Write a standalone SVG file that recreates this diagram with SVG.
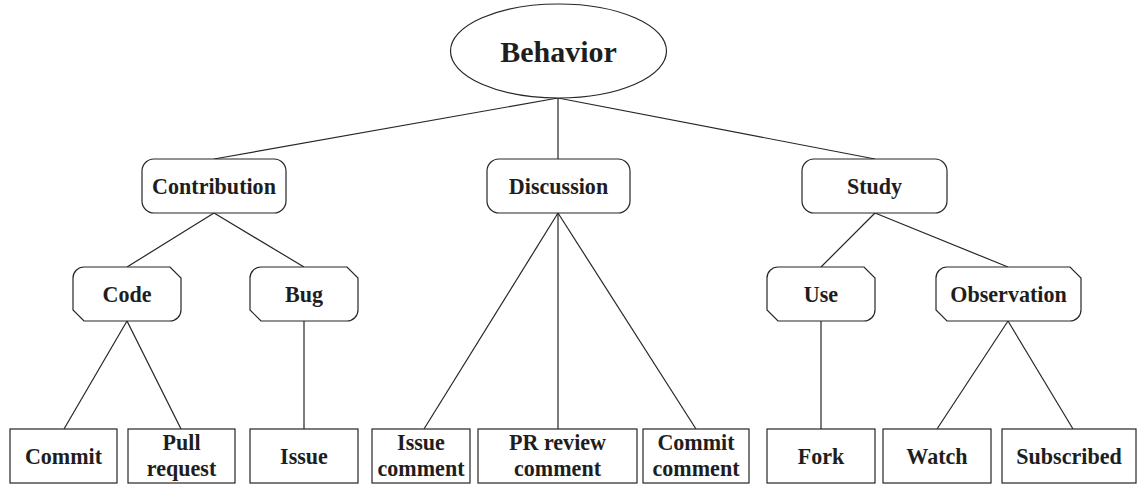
<svg xmlns="http://www.w3.org/2000/svg" width="1138" height="487" viewBox="0 0 1138 487">
<style>
  .shape { fill: #ffffff; stroke: #262626; stroke-width: 1.2; }
  .edge { stroke: #262626; stroke-width: 1.2; fill: none; }
  text { font-family: "Liberation Serif", "Times New Roman", serif; font-weight: bold; fill: #1e1e1e; text-anchor: middle; }
  .t { font-size: 24px; }
  .root { font-size: 30px; }
</style>
<rect width="1138" height="487" fill="#ffffff"/>
<g id="connectors">
  <line class="edge" x1="558" y1="98" x2="214" y2="159"/>
  <line class="edge" x1="558" y1="98" x2="558" y2="159"/>
  <line class="edge" x1="558" y1="98" x2="875" y2="159"/>
  <line class="edge" x1="214" y1="213" x2="127" y2="267"/>
  <line class="edge" x1="214" y1="213" x2="304" y2="267"/>
  <line class="edge" x1="127" y1="321" x2="64" y2="429"/>
  <line class="edge" x1="127" y1="321" x2="181" y2="429"/>
  <line class="edge" x1="304" y1="321" x2="304" y2="429"/>
  <line class="edge" x1="558" y1="213" x2="424" y2="429"/>
  <line class="edge" x1="558" y1="213" x2="558" y2="429"/>
  <line class="edge" x1="558" y1="213" x2="696" y2="429"/>
  <line class="edge" x1="875" y1="213" x2="821" y2="267"/>
  <line class="edge" x1="875" y1="213" x2="1008" y2="267"/>
  <line class="edge" x1="821" y1="321" x2="821" y2="429"/>
  <line class="edge" x1="1008" y1="321" x2="937" y2="429"/>
  <line class="edge" x1="1008" y1="321" x2="1073" y2="429"/>
</g>
<g id="behavior">
  <ellipse class="shape" cx="558.5" cy="51" rx="108" ry="47"/>
  <text class="root" x="558.5" y="62">Behavior</text>
</g>
<g id="contribution">
  <rect class="shape" x="142" y="159" width="144" height="54" rx="12"/>
  <text class="t" transform="translate(214,194) scale(0.92,1)">Contribution</text>
</g>
<g id="discussion">
  <rect class="shape" x="487" y="159" width="143" height="54" rx="12"/>
  <text class="t" transform="translate(558.5,194) scale(0.92,1)">Discussion</text>
</g>
<g id="study">
  <rect class="shape" x="802" y="159" width="145" height="54" rx="12"/>
  <text class="t" transform="translate(874.5,194) scale(0.92,1)">Study</text>
</g>
<g id="code">
  <path class="shape" d="M84,267 L170,267 L181,278 L181,310 A11,11 0 0 1 170,321 L84,321 L73,310 L73,278 A11,11 0 0 1 84,267 Z"/>
  <text class="t" transform="translate(127,302) scale(0.92,1)">Code</text>
</g>
<g id="bug">
  <path class="shape" d="M261,267 L347,267 L358,278 L358,310 A11,11 0 0 1 347,321 L261,321 L250,310 L250,278 A11,11 0 0 1 261,267 Z"/>
  <text class="t" transform="translate(304,302) scale(0.92,1)">Bug</text>
</g>
<g id="use">
  <path class="shape" d="M778,267 L864,267 L875,278 L875,310 A11,11 0 0 1 864,321 L778,321 L767,310 L767,278 A11,11 0 0 1 778,267 Z"/>
  <text class="t" transform="translate(821,302) scale(0.92,1)">Use</text>
</g>
<g id="observation">
  <path class="shape" d="M947,267 L1070,267 L1081,278 L1081,310 A11,11 0 0 1 1070,321 L947,321 L936,310 L936,278 A11,11 0 0 1 947,267 Z"/>
  <text class="t" transform="translate(1008.5,302) scale(0.92,1)">Observation</text>
</g>
<g id="commit">
  <rect class="shape" x="10" y="429" width="107" height="54"/>
  <text class="t" transform="translate(63.5,464) scale(0.92,1)">Commit</text>
</g>
<g id="pull-request">
  <rect class="shape" x="128" y="429" width="107" height="54"/>
  <text class="t" transform="translate(181.5,450) scale(0.92,1)">Pull</text>
  <text class="t" transform="translate(181.5,476) scale(0.92,1)">request</text>
</g>
<g id="issue">
  <rect class="shape" x="250" y="429" width="108" height="54"/>
  <text class="t" transform="translate(304,464) scale(0.92,1)">Issue</text>
</g>
<g id="issue-comment">
  <rect class="shape" x="372" y="429" width="98" height="54"/>
  <text class="t" transform="translate(421,450) scale(0.92,1)">Issue</text>
  <text class="t" transform="translate(421,476) scale(0.92,1)">comment</text>
</g>
<g id="pr-review-comment">
  <rect class="shape" x="478" y="429" width="159" height="54"/>
  <text class="t" transform="translate(557.5,450) scale(0.92,1)">PR review</text>
  <text class="t" transform="translate(557.5,476) scale(0.92,1)">comment</text>
</g>
<g id="commit-comment">
  <rect class="shape" x="643" y="429" width="106" height="54"/>
  <text class="t" transform="translate(696,450) scale(0.92,1)">Commit</text>
  <text class="t" transform="translate(696,476) scale(0.92,1)">comment</text>
</g>
<g id="fork">
  <rect class="shape" x="767" y="429" width="108" height="54"/>
  <text class="t" transform="translate(821,464) scale(0.92,1)">Fork</text>
</g>
<g id="watch">
  <rect class="shape" x="883" y="429" width="108" height="54"/>
  <text class="t" transform="translate(937,464) scale(0.92,1)">Watch</text>
</g>
<g id="subscribed">
  <rect class="shape" x="1002" y="429" width="134" height="54"/>
  <text class="t" transform="translate(1069,464) scale(0.92,1)">Subscribed</text>
</g>
</svg>
